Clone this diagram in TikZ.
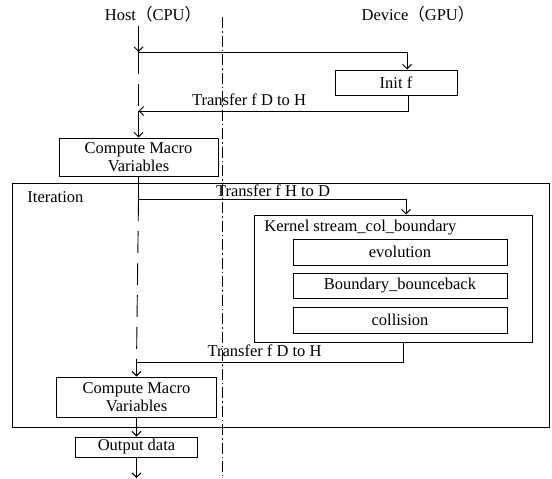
\documentclass[tikz,border=0pt]{standalone}
\usepackage{fontspec}
\setmainfont{Liberation Serif}
\newfontfamily\cjk{Noto Sans CJK SC}
\usetikzlibrary{arrows.meta}
\begin{document}
\begin{tikzpicture}[x=1pt,y=-1pt,
  font=\fontsize{16.5}{18.5}\selectfont,
  line width=0.9pt,
  box/.style={draw, line width=1pt, inner sep=0pt, align=center},
  lbl/.style={inner sep=0pt},
  arr/.style={-{Straight Barb[length=4.5pt,width=9pt]}},
  lifeline/.style={dash pattern=on 22pt off 10pt},
  divider/.style={line width=0.8pt, dash pattern=on 11pt off 3pt on 1.5pt off 3pt}]
\useasboundingbox (0,0) rectangle (552,479);
% titles
\node[lbl] (host) at (153,14) {Host{\cjk（}CPU{\cjk）}};
\node[lbl] (dev) at (418,14) {Device{\cjk（}GPU{\cjk）}};
% divider
\coordinate (dtop) at (222,17);
\coordinate (dbot) at (222,476);
\draw[divider] (dtop) -- (dbot);
% boxes
\node[box, minimum width=537, minimum height=244] (iter) at (280.5,305) {};
\node[lbl, anchor=west] (iterl) at (27,197) {Iteration};
\node[box, minimum width=122, minimum height=25] (init) at (396,82.5) {Init f};
\node[box, minimum width=159, minimum height=38] (cm1) at (138.5,157) {Compute Macro\\Variables};
\node[box, minimum width=278, minimum height=127] (kernel) at (393,278.5) {};
\node[lbl, anchor=west] (kl) at (264,228) {Kernel stream\_col\_boundary};
\node[box, minimum width=214, minimum height=26] (evo) at (400,252) {evolution};
\node[box, minimum width=214, minimum height=25] (bnd) at (400,285.5) {Boundary\_bounceback};
\node[box, minimum width=214, minimum height=26] (col) at (400,320) {collision};
\node[box, minimum width=160, minimum height=40] (cm2) at (136.5,397) {Compute Macro\\Variables};
\node[box, minimum width=122, minimum height=20] (out) at (136.5,447) {Output data};
% lifeline coordinates
\coordinate (h0) at (138.5,26);
\coordinate (h1) at (138.5,52);
\coordinate (h2) at (138.5,111);
\coordinate (h3) at (138.5,199);
\coordinate (h4) at (136.5,362);
\coordinate (hend) at (136.5,478);
% connectors
\draw[arr] (h0) -- (h1);
\draw[arr] (h1) -| ([xshift=11pt]init.north);
\draw[lifeline] (h1) -- (h2);
\draw[arr] ([xshift=12pt]init.south) |- (h2);
\draw[arr] (h2) -- (cm1.north);
\draw[arr] (cm1.south) -- (h3) -| ([xshift=13pt]kernel.north);
\draw[lifeline] (h3) -- (h4);
\draw ([xshift=10pt]kernel.south) |- (h4);
\draw[arr] (h4) -- (cm2.north);
\draw[arr] (cm2.south) -- (out.north);
\draw[arr] (out.south) -- (hend);
% labels
\node[lbl] (t1) at (249,100) {Transfer f D to H};
\node[lbl] (t2) at (273,191) {Transfer f H to D};
\node[lbl] (t3) at (264.5,351) {Transfer f D to H};
\end{tikzpicture}
\end{document}
